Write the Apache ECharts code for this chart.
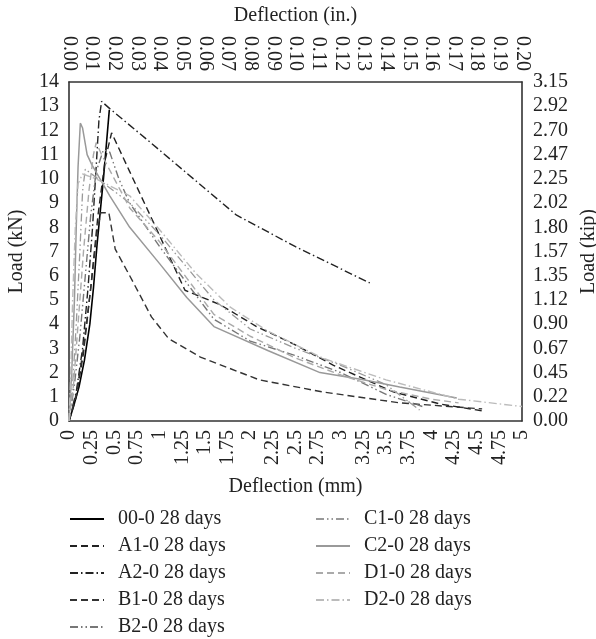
<!DOCTYPE html>
<html>
<head>
<meta charset="utf-8">
<script src="https://cdn.jsdelivr.net/npm/echarts@6/dist/echarts.min.js"></script>
<style>html,body{margin:0;padding:0;background:#fff;}#c{width:596px;height:639px;}</style>
</head>
<body>
<div id="c"></div>
<script>
// Series names
const seriesNames = ['00-0 28 days','A1-0 28 days','A2-0 28 days','B1-0 28 days','B2-0 28 days','C1-0 28 days','C2-0 28 days','D1-0 28 days','D2-0 28 days'];
// [deflection mm, load kN]
const s00 = [[0,0],[0.05,0.6],[0.11,1.4],[0.17,2.5],[0.23,4.0],[0.27,5.5],[0.31,7.3],[0.38,10],[0.445,12.85]];
const sA1 = [[0,0],[0.08,1],[0.16,2.8],[0.24,5.5],[0.32,8.5],[0.4,10.8],[0.47,11.9],[0.67,10.3],[0.92,8.3],[1.28,5.4],[1.67,4.8],[2.07,3.9],[2.47,3.2],[2.92,2.3],[3.58,1.2],[4.1,0.7],[4.56,0.42]];
const sA2 = [[0,0],[0.08,1.2],[0.15,3],[0.21,5.5],[0.26,8],[0.3,10.5],[0.33,12.4],[0.36,13.2],[0.45,12.9],[0.9,11.5],[1.5,9.6],[1.85,8.5],[2.5,7.2],[3.32,5.7]];
const sB1 = [[0,0],[0.08,1.1],[0.16,3],[0.24,5.5],[0.31,7.8],[0.35,8.6],[0.44,8.6],[0.51,7.1],[0.67,6.0],[0.91,4.3],[1.1,3.4],[1.45,2.64],[2.1,1.7],[2.8,1.2],[3.65,0.75],[4.56,0.5]];
const sB2 = [[0,0],[0.06,1.5],[0.12,3.5],[0.18,6],[0.24,8.5],[0.3,10.3],[0.38,11.2],[0.45,11.1],[0.55,10.0],[0.67,9.0],[1.0,7.2],[1.6,4.2],[2.0,3.3],[2.5,2.7],[3.0,2.0],[3.5,1.1],[3.9,0.6]];
const sC1 = [[0,0],[0.04,1.5],[0.08,4],[0.12,7],[0.15,9.5],[0.18,10.4],[0.25,10.2],[0.67,9.0],[1.0,7.7],[1.6,5.0],[2.0,3.8],[2.5,3.0],[3.0,2.3],[3.5,1.5],[3.87,0.45]];
const sC2 = [[0,0],[0.03,2],[0.06,5],[0.08,8],[0.1,10.5],[0.125,12.3],[0.15,12.1],[0.2,11.0],[0.25,10.6],[0.45,9.3],[0.67,8.0],[1.0,6.5],[1.3,5.1],[1.6,3.9],[2.2,2.9],[2.77,2.0],[3.25,1.7],[3.65,1.4],[4.28,0.95]];
const sD1 = [[0,0],[0.05,1.5],[0.1,4],[0.16,7],[0.22,9.5],[0.27,11.0],[0.3,11.5],[0.36,11.0],[0.5,10.0],[0.67,8.8],[1.0,7.4],[1.3,5.9],[1.6,4.4],[2.0,3.5],[2.5,2.6],[3.0,1.9],[3.5,1.3],[4.0,0.9],[4.3,0.75]];
const sD2 = [[0,0],[0.02,2],[0.04,5],[0.07,8],[0.1,9.8],[0.15,10.2],[0.3,10.0],[0.67,9.3],[1.0,7.9],[1.4,6.1],[1.78,4.7],[2.2,3.7],[2.8,2.6],[3.5,1.7],[4.3,0.9],[5.0,0.6]];
// Axis ranges / ticks
const mmMin = 0, mmMax = 5, mmStep = 0.25;
const inMin = 0, inMax = 0.20, inStep = 0.01;
const kNMin = 0, kNMax = 14, kNStep = 1;
const kipPerKN = 0.224809;

const FONT = 'Liberation Serif';
const FS = 20;
const dash = [7,4];
const dashDot = [8,3,1.5,3];
const dashDotDot = [8,3,1.5,3,1.5,3];
const styles = [
  {color:'#000', type:'solid', width:1.6},
  {color:'#222', type:dash, width:1.4},
  {color:'#222', type:dashDot, width:1.4},
  {color:'#333', type:dash, width:1.4},
  {color:'#777', type:dashDotDot, width:1.4},
  {color:'#999', type:dashDotDot, width:1.3},
  {color:'#999', type:'solid', width:1.5},
  {color:'#aaa', type:dash, width:1.4},
  {color:'#bbb', type:dashDot, width:1.4}
];
const data = [s00,sA1,sA2,sB1,sB2,sC1,sC2,sD1,sD2];

const series = seriesNames.map((n,i)=>({
  name:n, type:'line', data:data[i], xAxisIndex:0, yAxisIndex:0,
  symbol:'none', smooth:false, silent:true, animation:false,
  lineStyle:{color:styles[i].color, type:styles[i].type, width:styles[i].width},
  itemStyle:{color:styles[i].color}
}));

const axisLine = {show:true, onZero:false, lineStyle:{color:'#333', width:1.6}};
const labelStyle = {fontFamily:FONT, fontSize:FS, color:'#222'};
const nameStyle = {fontFamily:FONT, fontSize:FS, color:'#222'};
const legendBase = {orient:'vertical', top:509, itemWidth:34, itemHeight:14, itemGap:7, padding:0,
  selectedMode:false,
  itemStyle:{opacity:0, borderWidth:0},
  textStyle:{fontFamily:FONT, fontSize:FS, color:'#222', padding:[0,0,0,9]}};

const chart = echarts.init(document.getElementById('c'), null, {renderer:'canvas'});
chart.setOption({
  animation:false,
  backgroundColor:'#fff',
  grid:{left:69, right:74, top:82, bottom:218, containLabel:false, outerBoundsMode:'none'},
  xAxis:[
    {type:'value', position:'bottom', min:mmMin, max:mmMax, interval:mmStep,
     axisLine:axisLine, axisTick:{show:false}, splitLine:{show:false},
     axisLabel:Object.assign({rotate:90, margin:9}, labelStyle),
     name:'Deflection (mm)', nameLocation:'middle', nameGap:56, nameTextStyle:nameStyle},
    {type:'value', position:'top', min:inMin, max:inMax, interval:inStep,
     axisLine:axisLine, axisTick:{show:false}, splitLine:{show:false},
     axisLabel:Object.assign({rotate:90, margin:11, formatter:v=>v.toFixed(2)}, labelStyle),
     name:'Deflection (in.)', nameLocation:'middle', nameGap:56, nameTextStyle:nameStyle}
  ],
  yAxis:[
    {type:'value', position:'left', min:kNMin, max:kNMax, interval:kNStep,
     axisLine:axisLine, axisTick:{show:false}, splitLine:{show:false},
     axisLabel:Object.assign({margin:10}, labelStyle),
     name:'Load (kN)', nameLocation:'middle', nameGap:42, nameTextStyle:nameStyle},
    {type:'value', position:'right', min:kNMin*kipPerKN, max:kNMax*kipPerKN, interval:kNStep*kipPerKN,
     axisLine:axisLine, axisTick:{show:false}, splitLine:{show:false},
     axisLabel:Object.assign({margin:11, formatter:v=>v.toFixed(2)}, labelStyle),
     name:'Load (kip)', nameLocation:'middle', nameGap:51, nameTextStyle:nameStyle}
  ],
  legend:[
    Object.assign({data:seriesNames.slice(0,5), left:69}, legendBase),
    Object.assign({data:seriesNames.slice(5), left:315}, legendBase)
  ],
  series:series
});
</script>
</body>
</html>
